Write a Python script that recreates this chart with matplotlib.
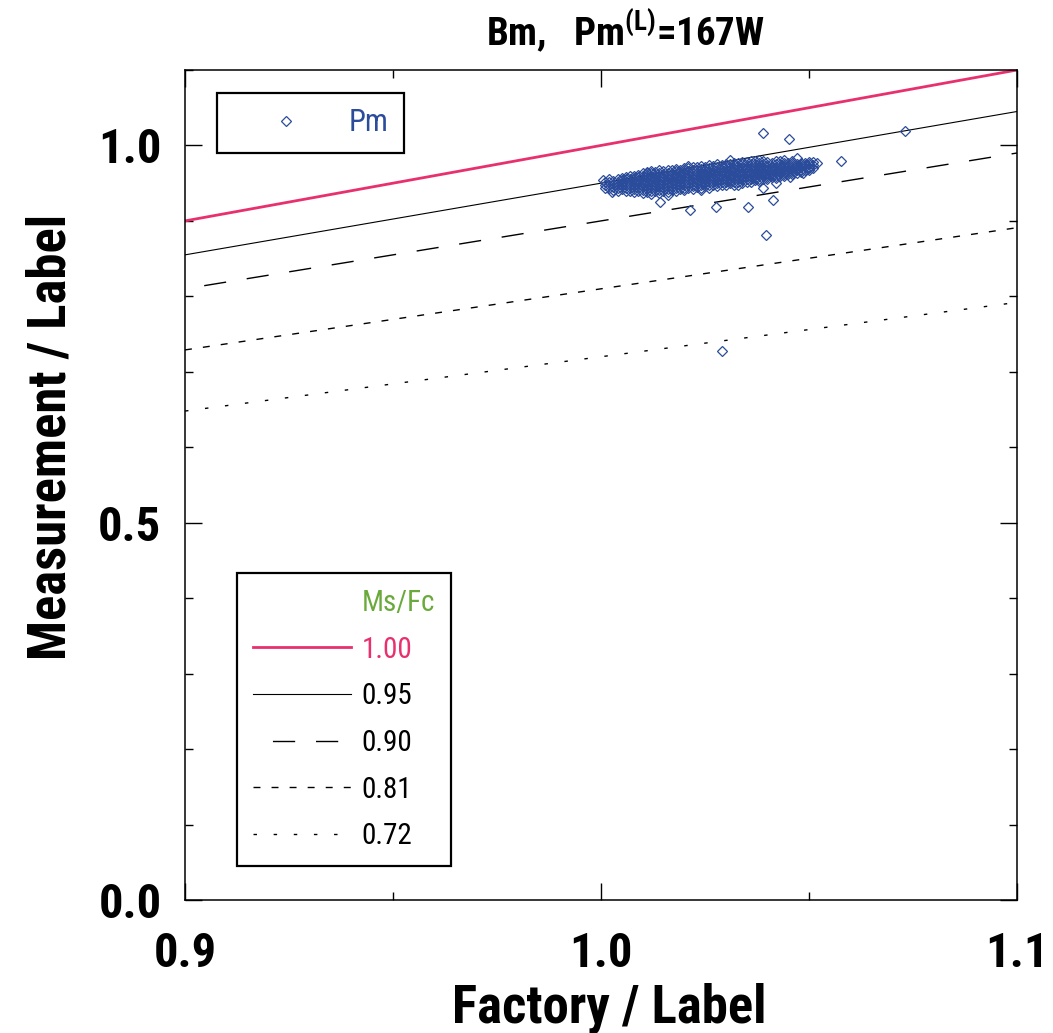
import matplotlib
matplotlib.use('Agg')
import matplotlib.pyplot as plt
from matplotlib import font_manager
from matplotlib.lines import Line2D
from matplotlib.ticker import FixedLocator, MultipleLocator, FixedFormatter

# narrow font, closest to the original condensed look
avail = {f.name for f in font_manager.fontManager.ttflist}
family = next((n for n in ['Liberation Sans Narrow', 'Roboto Condensed', 'DejaVu Sans']
               if n in avail), 'DejaVu Sans')
plt.rcParams['font.family'] = [family, 'DejaVu Sans']
plt.rcParams['mathtext.default'] = 'regular'

# Ms/Fc reference lines (Measurement = ratio * Factory)
ratios = [1.00, 0.95, 0.90, 0.81, 0.72]
ratio_labels = ['1.00', '0.95', '0.90', '0.81', '0.72']
x_range = [0.9, 1.1]

# Pm points: dense band, stored by column of Factory/Label
col_x = [1.001, 1.002, 1.003, 1.004, 1.005, 1.006, 1.007, 1.008, 1.009, 1.010,
         1.011, 1.012, 1.013, 1.014, 1.015, 1.016, 1.017, 1.018, 1.019, 1.020,
         1.021, 1.022, 1.023, 1.024, 1.025, 1.026, 1.027, 1.028, 1.029, 1.030,
         1.031, 1.032, 1.033, 1.034, 1.035, 1.036, 1.037, 1.038, 1.039, 1.040,
         1.041, 1.042, 1.043, 1.044, 1.045, 1.046, 1.047, 1.048, 1.049, 1.050,
         1.051]
col_y = [
    [0.944, 0.948, 0.952],
    [0.943, 0.947, 0.951, 0.955],
    [0.941, 0.945, 0.949, 0.953],
    [0.940, 0.944, 0.948, 0.952, 0.956],
    [0.942, 0.946, 0.950, 0.954, 0.957],
    [0.939, 0.943, 0.947, 0.951, 0.955, 0.958],
    [0.940, 0.944, 0.948, 0.951, 0.955, 0.959],
    [0.938, 0.942, 0.946, 0.950, 0.953, 0.957, 0.960],
    [0.939, 0.943, 0.947, 0.951, 0.954, 0.958, 0.961],
    [0.937, 0.941, 0.945, 0.949, 0.952, 0.956, 0.959, 0.963],
    [0.938, 0.942, 0.946, 0.950, 0.953, 0.957, 0.961, 0.964],
    [0.936, 0.940, 0.944, 0.948, 0.952, 0.955, 0.959, 0.963, 0.966],
    [0.939, 0.943, 0.946, 0.950, 0.954, 0.957, 0.961, 0.965],
    [0.937, 0.941, 0.945, 0.949, 0.952, 0.956, 0.960, 0.963, 0.967],
    [0.940, 0.944, 0.948, 0.951, 0.955, 0.958, 0.962, 0.966],
    [0.938, 0.942, 0.946, 0.950, 0.953, 0.957, 0.960, 0.964, 0.968],
    [0.941, 0.945, 0.949, 0.953, 0.956, 0.960, 0.964, 0.967],
    [0.939, 0.943, 0.947, 0.951, 0.955, 0.958, 0.962, 0.966, 0.969],
    [0.942, 0.946, 0.950, 0.954, 0.957, 0.961, 0.965, 0.968],
    [0.941, 0.944, 0.948, 0.952, 0.956, 0.959, 0.963, 0.967, 0.970],
    [0.943, 0.947, 0.951, 0.955, 0.958, 0.962, 0.966, 0.970],
    [0.942, 0.946, 0.949, 0.953, 0.957, 0.960, 0.964, 0.968, 0.971],
    [0.945, 0.949, 0.953, 0.956, 0.960, 0.963, 0.967, 0.971],
    [0.943, 0.947, 0.951, 0.955, 0.958, 0.962, 0.965, 0.969, 0.973],
    [0.946, 0.950, 0.954, 0.957, 0.961, 0.964, 0.968, 0.972],
    [0.944, 0.948, 0.952, 0.956, 0.959, 0.963, 0.966, 0.970, 0.974],
    [0.947, 0.951, 0.955, 0.958, 0.962, 0.965, 0.969, 0.973],
    [0.946, 0.950, 0.953, 0.957, 0.960, 0.964, 0.967, 0.971, 0.975],
    [0.948, 0.952, 0.956, 0.960, 0.963, 0.967, 0.971, 0.974],
    [0.947, 0.951, 0.954, 0.958, 0.962, 0.965, 0.969, 0.973, 0.976],
    [0.950, 0.953, 0.957, 0.961, 0.964, 0.968, 0.972, 0.975],
    [0.948, 0.952, 0.956, 0.959, 0.963, 0.966, 0.970, 0.974, 0.977],
    [0.951, 0.955, 0.958, 0.962, 0.965, 0.969, 0.973, 0.977],
    [0.950, 0.954, 0.957, 0.961, 0.964, 0.968, 0.971, 0.975, 0.978],
    [0.952, 0.956, 0.959, 0.963, 0.966, 0.970, 0.974, 0.978],
    [0.951, 0.955, 0.958, 0.962, 0.965, 0.969, 0.972, 0.976, 0.980],
    [0.954, 0.957, 0.961, 0.964, 0.967, 0.971, 0.975, 0.979],
    [0.953, 0.956, 0.960, 0.963, 0.966, 0.970, 0.973, 0.977, 0.981],
    [0.956, 0.959, 0.962, 0.965, 0.969, 0.972, 0.976, 0.980],
    [0.955, 0.958, 0.961, 0.964, 0.968, 0.971, 0.974, 0.978],
    [0.958, 0.961, 0.964, 0.967, 0.970, 0.973, 0.977],
    [0.957, 0.960, 0.963, 0.966, 0.969, 0.972, 0.975, 0.979],
    [0.960, 0.963, 0.966, 0.969, 0.972, 0.975, 0.979],
    [0.959, 0.962, 0.965, 0.968, 0.971, 0.974, 0.977, 0.981],
    [0.962, 0.965, 0.968, 0.971, 0.974, 0.977],
    [0.962, 0.965, 0.968, 0.971, 0.974, 0.977, 0.980],
    [0.964, 0.967, 0.970, 0.973, 0.976],
    [0.965, 0.968, 0.971, 0.974, 0.977],
    [0.967, 0.971, 0.974, 0.977],
    [0.968, 0.972, 0.975, 0.978],
    [0.970, 0.974, 0.978],
]
# scattered points around the band
out_x = [1.0005, 1.0027, 1.0053, 1.0110, 1.0142, 1.0160, 1.0214, 1.0210, 1.0240, 1.0276,
         1.0290, 1.0310, 1.0330, 1.0353, 1.0389, 1.0389, 1.0397, 1.0413, 1.0421, 1.0425,
         1.0452, 1.0455, 1.0470, 1.0486, 1.0500, 1.0520, 1.0577, 1.0731]
out_y = [0.954, 0.938, 0.951, 0.965, 0.925, 0.934, 0.915, 0.973, 0.941, 0.918,
         0.728, 0.981, 0.948, 0.919, 1.016, 0.944, 0.881, 0.928, 0.950, 0.962,
         1.009, 0.958, 0.983, 0.963, 0.970, 0.977, 0.980, 1.019]

pm_x = [x for x, ys in zip(col_x, col_y) for _ in ys] + out_x
pm_y = [y for ys in col_y for y in ys] + out_y

red = '#e8306e'
blue = '#2b4c9b'

fig = plt.figure(figsize=(10.53, 10.33), dpi=100)
ax = fig.add_axes([185/1053, 1-900/1033, 832/1053, 830/1033])

styles = [dict(color=red, lw=2.0, ls='-'),
          dict(color='black', lw=0.8, ls='-'),
          dict(color='black', lw=1.0, ls=(17, (16, 15))),
          dict(color='black', lw=1.0, ls=(0, (5, 8))),
          dict(color='black', lw=1.0, ls=(0, (2.5, 12)))]

ratio_lines = []
for k, st in zip(ratios, styles):
    ln, = ax.plot(x_range, [k*x for x in x_range], **st)
    ratio_lines.append(ln)

pm, = ax.plot(pm_x, pm_y, ls='none', marker='D', ms=5.5, mfc='none',
              mec=blue, mew=0.9)

ax.set_xlim(0.9, 1.1)
ax.set_ylim(0.0, 1.1)
ax.xaxis.set_major_locator(FixedLocator([0.9, 1.0, 1.1]))
ax.xaxis.set_major_formatter(FixedFormatter(['0.9', '1.0', '1.1']))
ax.xaxis.set_minor_locator(FixedLocator([0.95, 1.05]))
ax.yaxis.set_major_locator(FixedLocator([0.0, 0.5, 1.0]))
ax.yaxis.set_major_formatter(FixedFormatter(['0.0', '0.5', '1.0']))
ax.yaxis.set_minor_locator(MultipleLocator(0.1))
ax.tick_params(which='both', direction='in', top=True, right=True, width=1.0)
ax.tick_params(which='major', length=12, labelsize=35)
ax.tick_params(axis='x', which='major', pad=22)
ax.tick_params(axis='y', which='major', pad=17)
ax.tick_params(which='minor', length=6)
for lab in ax.get_xticklabels() + ax.get_yticklabels():
    lab.set_fontweight('bold')
for sp in ax.spines.values():
    sp.set_linewidth(1.1)

ax.set_xlabel('Factory / Label', fontsize=38, fontweight='bold')
ax.set_ylabel('Measurement / Label', fontsize=38, fontweight='bold')
ax.xaxis.set_label_coords(0.51, -0.100)
ax.yaxis.set_label_coords(-0.131, 0.558)

fig.text(625/1053, 1-31/1033, r'Bm,   Pm$^{(L)}$=167W', fontsize=28,
         fontweight='bold', ha='center', va='center')

# Pm legend
leg1 = ax.legend([pm], ['Pm'], loc='upper left',
                 bbox_to_anchor=((217-185)/832, (900-93)/830),
                 borderaxespad=0, fontsize=22, fancybox=False,
                 edgecolor='black', framealpha=1, borderpad=0.5,
                 handlelength=3.5, handletextpad=0.3, numpoints=1)
leg1.get_frame().set_linewidth(1.6)
leg1.get_texts()[0].set_color(blue)
ax.add_artist(leg1)

# Ms/Fc legend (title row as a blank entry so it lines up with the labels)
blank = Line2D([], [], ls='none')
leg2 = ax.legend([blank] + ratio_lines, ['Ms/Fc'] + ratio_labels,
                 loc='upper left',
                 bbox_to_anchor=((237-185)/832, (900-573)/830),
                 borderaxespad=0, fontsize=21, fancybox=False,
                 edgecolor='black', framealpha=1, borderpad=0.55,
                 handlelength=3.35, handletextpad=0.38, labelspacing=0.64)
leg2.get_frame().set_linewidth(1.6)
txts = leg2.get_texts()
txts[0].set_color('#6aaa3c')
txts[1].set_color(red)

fig.savefig('out.png', dpi=100)
